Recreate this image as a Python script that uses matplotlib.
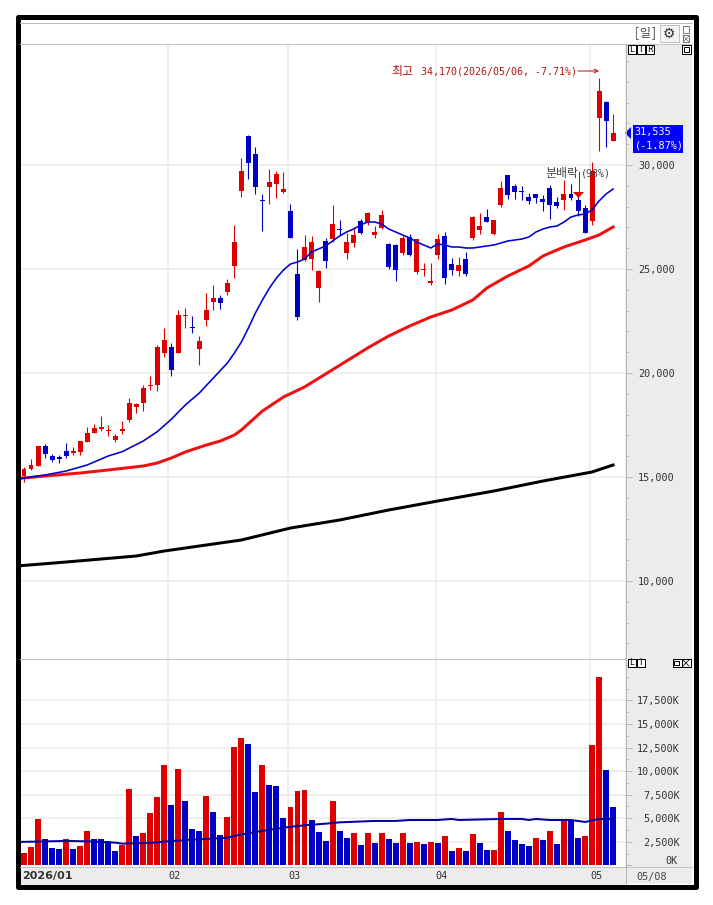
import matplotlib
matplotlib.use("Agg")
import matplotlib.pyplot as plt
from matplotlib.patches import Rectangle, Polygon
from matplotlib.ticker import MultipleLocator

plt.rcParams['font.family'] = ['Noto Sans CJK KR', 'DejaVu Sans']
MONO = ['DejaVu Sans Mono', 'Noto Sans CJK KR']

opens = [15047,15384,15542,16489,16008,15960,16249,16153,16201,16681,17114,17307,17197,16778,17211,17739,18365,18557,19374,19422,
         20961,21249,20961,22740,22211,21153,22548,23413,23605,23894,25144,28750,31394,30529,28317,28942,29086,28702,27788,24759,
         25432,25480,24086,26346,26442,26923,25769,26250,27307,27259,26634,26971,26202,26153,25769,26538,24855,24951,24326,25673,
         26586,25240,24903,25480,26490,26875,27500,26682,28076,29519,29010,28750,28461,28605,28365,28894,28221,28317,28605,28317,
         27933,27307,32260,33029,31154]
highs = [15494,15864,16489,16585,16105,16057,16634,16441,16729,17403,17547,17932,17499,17066,17691,18797,18557,19422,19855,21345,
         22163,21442,23028,23124,22740,21778,23846,24230,23749,24519,27115,30337,31442,30865,28605,29808,29711,29663,28125,25961,
         26634,26586,24951,26490,28076,27355,26730,27019,27404,27740,27067,27836,26250,26202,26634,26682,26442,25288,25288,26682,
         26778,25528,25576,25817,27548,27692,27884,27355,29230,29519,29106,29010,28654,28605,28557,29038,28461,29279,29086,28509,
         28076,30144,34170,33077,32452]
lows = [14773,15336,15542,15912,15720,15672,15912,16057,16057,16681,17114,17211,16970,16681,17066,17643,18076,18172,19182,19134,
        20768,19855,20961,22163,21922,20384,22259,23028,23076,23749,24567,28461,29327,28605,26827,28125,28413,28654,26490,22547,
        25384,24951,23413,25048,26298,26634,25480,26057,26682,27115,26490,26923,25000,24423,25673,25625,24759,24663,24230,25480,
        24278,24711,24663,24663,26394,26682,27259,26634,27980,28365,28365,28317,28125,28173,27788,27404,27932,27836,28317,27548,
        26730,27115,30673,30865,31154]
closes = [15384,15576,16489,16105,15816,15879,16008,16249,16729,17114,17355,17403,17259,16970,17307,18557,18509,19278,19422,21249,
          21586,20143,22788,22788,22163,21538,23028,23605,23365,24326,26295,29711,30096,28942,28269,29182,29567,28846,26490,22691,
          26057,26295,24903,25384,27163,26875,26298,26634,26730,27692,26778,27596,25096,24951,26490,25673,26442,24999,24423,26442,
          24567,24951,25192,24759,27500,27067,27259,27355,28894,28557,28702,28702,28269,28413,28221,28076,28028,28605,28413,27788,
          26730,29711,33558,32115,31535]
volumes = [1330,1960,4930,2810,1860,1750,2810,1750,2070,3660,2810,2810,2600,1540,2170,8100,3130,3450,5560,7260,
           10650,6410,10220,6830,3870,3660,7360,5670,3230,5140,12550,13500,12870,7790,10650,8530,8420,5030,6200,7890,
           8000,4820,3550,2600,6830,3660,2920,3450,2170,3450,2390,3450,2810,2390,3450,2390,2490,2280,2490,2390,
           3130,1540,1860,1540,3340,2390,1650,1650,5670,3660,2700,2280,2070,2920,2700,3660,2280,4820,4820,2920,
           3130,12770,19970,10120,6200]
volume_dir = "RRRBBBRBRRBBBBRRBRRRRBRBBBRBBRRRBBRBBBRRRBBBRBBRBRBRBBRBRBRBRBRBRBBRRBBBBRBRBRBBRRRBB"

ma5_idx = [-1,0,3,6,9,12,14,17,19,21,23,25,27,29,30,31,32,33,34,35,36,37,38,39,40,41,42,43,44,45,46,47,48,49,50,51,52,53,54,55,56,57,58,59,60,
           61,62,63,64,65,66,67,68,69,70,71,72,73,74,75,76,77,78,79,80,81,82,83,84]
ma5_val = [14900,14951,15095,15287,15576,16008,16215,16729,17177,17773,18461,19038,19759,20480,20961,21490,22163,22884,23509,24086,24567,24951,25240,25336,25480,25817,25961,26106,26346,26586,26778,26923,27115,27259,27259,27163,26923,26778,26634,26490,26298,26153,26009,26202,26153,
           26057,26057,26009,26009,26057,26106,26153,26250,26346,26394,26442,26538,26778,26923,27019,27067,27259,27500,27596,27644,27836,28269,28605,28846]
ma20_idx = [-1,0,3,8,12,17,19,21,23,26,28,30,31,34,37,40,43,46,49,52,55,58,61,64,66,69,72,74,77,80,82,84]
ma20_val = [14927,14951,15047,15191,15336,15528,15672,15912,16201,16537,16729,17018,17259,18172,18845,19327,19951,20576,21202,21778,22259,22692,23028,23509,24086,24663,25144,25625,26057,26394,26634,27019]
ma120_idx = [-1,6,16,20,31,38,45,52,59,67,74,81,84]
ma120_val = [10720,10912,11200,11441,11970,12546,12931,13412,13845,14325,14805,15240,15576]
vol_ma_idx = [-1,6,9,13,14,18,20,23,27,29,31,34,37,40,43,45,50,53,55,59,61,62,68,71,72,73,75,78,80,82,84]
vol_ma_val = [2490,2600,2560,2420,2320,2390,2530,2700,2850,2950,3300,3660,4010,4260,4430,4570,4720,4720,4820,4820,4930,4820,4930,4930,4820,4930,4820,4820,4610,4930,4930]

month_pos = [20.6, 37.7, 58.7, 80.7]
month_labels = ["02", "03", "04", "05"]
price_ticks = [10000, 15000, 20000, 25000, 30000]
vol_ticks = [0, 2500, 5000, 7500, 10000, 12500, 15000, 17500]

RED, BLUE = "#dc0000", "#0000c4"
W, H = 713, 905
fig = plt.figure(figsize=(W/100, H/100), dpi=100, facecolor="white")
def axpx(x0, y0, x1, y1, **k):
    return fig.add_axes([x0/W, 1-y1/H, (x1-x0)/W, (y1-y0)/H], **k)

bg = axpx(0, 0, W, H, zorder=0)
bg.set_xlim(0, W); bg.set_ylim(H, 0); bg.axis("off")
bg.add_patch(Rectangle((625, 44), 67, 840, fc="#ececec", ec="none"))
bg.add_patch(Rectangle((20, 867), 605, 17.5, fc="#ececec", ec="none"))

XMIN, XMAX = -0.57, 85.7
px = 1/100*72

ax = axpx(20, 44, 625, 658, zorder=2)
ax.set_xlim(XMIN, XMAX); ax.set_ylim(6297, 35817)
ax2 = axpx(20, 658, 625, 866, zorder=2)
ax2.set_xlim(XMIN, XMAX); ax2.set_ylim(-53, 21981)

for a in (ax, ax2):
    for s in a.spines.values():
        s.set_visible(False)
    a.yaxis.tick_right()
    a.set_xticks(month_pos)
    a.grid(True, which="major", color="#ebebeb", lw=1.5*px)
    a.set_axisbelow(True)
    a.tick_params(axis="y", which="major", length=5, width=1*px, color="#b8b8b8", labelcolor="#333333")
    a.tick_params(axis="y", which="minor", length=3, width=1*px, color="#c4c4c4")

ax.tick_params(axis="x", length=0, labelbottom=False)
ax.set_yticks(price_ticks)
ax.set_yticklabels([f"{v:,}" for v in price_ticks], fontsize=7.3, family=MONO)
ax.yaxis.set_minor_locator(MultipleLocator(1000))
ax.tick_params(axis="y", which="major", pad=4.4)

ax2.set_xticklabels(month_labels, fontsize=7.3, family=MONO, color="#333333", ha="left")
ax2.tick_params(axis="x", length=0, pad=3.5)
ax2.set_yticks(vol_ticks)
ax2.set_yticklabels(["" if v == 0 else f"{v:,}K" for v in vol_ticks], fontsize=7.3, family=MONO, ha="right")
ax2.yaxis.set_minor_locator(MultipleLocator(1250))
ax2.tick_params(axis="y", which="major", pad=34.5)
ax2.yaxis.get_gridlines()[0].set_visible(False)

idx = list(range(len(opens)))
cols = [RED if c >= o else BLUE for o, c in zip(opens, closes)]
ax.vlines(idx, lows, highs, colors=cols, lw=1.1*px, zorder=3)
ax.bar(idx, [max(abs(c-o), 60) for o, c in zip(opens, closes)],
       bottom=[min(o, c) for o, c in zip(opens, closes)], width=0.71, color=cols, lw=0, zorder=4)
ax.plot(ma120_idx, ma120_val, color="#000000", lw=3*px, zorder=5)
ax.plot(ma20_idx, ma20_val, color="#f01010", lw=3*px, zorder=5)
ax.plot(ma5_idx, ma5_val, color="#0000d0", lw=1.6*px, zorder=6)

vcols = [RED if d == "R" else BLUE for d in volume_dir]
ax2.bar(idx, volumes, width=0.85, color=vcols, lw=0, zorder=3)
ax2.plot(vol_ma_idx, vol_ma_val, color="#0000a0", lw=2*px, zorder=5)

top = axpx(0, 0, W, H, zorder=5)
top.set_xlim(0, W); top.set_ylim(H, 0); top.axis("off"); top.patch.set_alpha(0)
border = Rectangle((17.5, 17.5), 678, 869.5, fc="none", ec="black", lw=5*px, joinstyle="round")
top.add_patch(border)
line = dict(color="#c4c4c4", lw=1*px)
top.plot([20, 692], [23.5, 23.5], color="#b8b8b8", lw=1*px)
top.plot([20, 692], [44.5, 44.5], **line)
top.plot([20, 625], [658.5, 658.5], **line)
top.plot([20, 692], [866.8, 866.8], **line)
top.plot([625.5, 625.5], [44, 884], color="#b4b4b4", lw=1*px)

top.text(635, 33, "[", fontsize=8.5, color="#444444", ha="left", va="center")
top.text(645, 33, "일", fontsize=8.5, color="#444444", ha="center", va="center")
top.text(656, 33, "]", fontsize=8.5, color="#444444", ha="right", va="center")
top.add_patch(Rectangle((659.5, 25.5), 19, 17, fc="#f4f4f4", ec="#c0c0c0", lw=1*px))
top.text(669, 33.5, "\u2699", fontsize=10, family="DejaVu Sans", color="#333333", ha="center", va="center")
top.add_patch(Rectangle((682.5, 26.5), 6.5, 6.5, fc="white", ec="#777777", lw=1*px))
top.add_patch(Rectangle((682.5, 35.5), 6.5, 6.5, fc="white", ec="#777777", lw=1*px))
top.plot([683, 689], [36, 42], color="#777777", lw=0.8*px)
top.plot([683, 689], [42, 36], color="#777777", lw=0.8*px)

def btn(x, y, w, s):
    top.add_patch(Rectangle((x+.5, y+.5), w, 8.5, fc="white", ec="black", lw=1*px))
    top.text(x+.5+w/2, y+4.8, s, fontsize=6.5, color="black", ha="center", va="center")
for x, s in zip((627, 636, 645), "LIR"):
    btn(x, 45, 8.5, s)
btn(681, 45, 9.5, "")
top.add_patch(Rectangle((683.5, 47.5), 5, 4.5, fc="white", ec="black", lw=1*px))
for x, s in zip((627, 636), "LI"):
    btn(x, 658, 8.5, s)
btn(672, 658, 9, "")
top.add_patch(Rectangle((674, 660.5), 4.5, 4, fc="white", ec="black", lw=1*px))
btn(681, 658, 9.5, "")
top.plot([683, 689], [660, 666], color="black", lw=0.8*px)
top.plot([683, 689], [666, 660], color="black", lw=0.8*px)

top.text(391, 71, "최고", fontsize=8.6, color="#b41414", va="center", ha="left")
top.text(421, 71, "34,170(2026/05/06, -7.71%)", fontsize=7.2, family=MONO, color="#b41414", va="center", ha="left")
top.annotate("", xy=(599, 71), xytext=(578, 71),
             arrowprops=dict(arrowstyle="->", color="#b41414", lw=1*px, mutation_scale=7, shrinkA=0, shrinkB=0))
top.text(545, 173.5, "분배락", fontsize=8.6, color="#444444", va="center", ha="left")
top.text(581, 173.5, "(98%)", fontsize=7.2, family=MONO, color="#444444", va="center", ha="left")
top.plot([578.5, 578.5], [172, 192], color="#e00000", lw=1*px)
top.add_patch(Polygon([[573, 192], [584, 192], [578.5, 198]], fc="#e00000", ec="none"))

top.add_patch(Polygon([[625, 133], [631, 127], [631, 139]], fc="#0000ff", ec="none"))
top.add_patch(Rectangle((633, 125), 50, 28, fc="#0000ff", ec="none"))
top.text(634.5, 132.5, "31,535", fontsize=7.3, family=MONO, color="white", va="center", ha="left")
top.text(634.5, 146, "(-1.87%)", fontsize=7.3, family=MONO, color="white", va="center", ha="left")

top.text(678, 861, "0K", fontsize=7.3, family=MONO, color="#333333", va="center", ha="right")
top.text(22, 876, "2026/01", fontsize=8, family="DejaVu Sans", fontweight="bold", color="#333333", va="center", ha="left")
top.text(636, 876.5, "05/08", fontsize=7.3, family=MONO, color="#444444", va="center", ha="left")

fig.savefig("out.png", dpi=100)
